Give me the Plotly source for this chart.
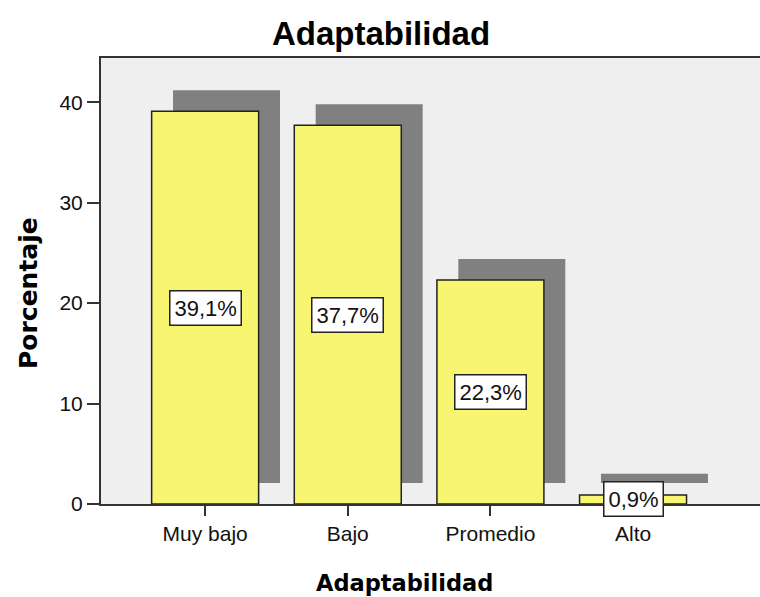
import plotly.graph_objects as go

categories = ["Muy bajo", "Bajo", "Promedio", "Alto"]
values = [39.1, 37.7, 22.3, 0.9]
labels = ["39,1%", "37,7%", "22,3%", "0,9%"]
y_ticks = [0, 10, 20, 30, 40]

xpos = list(range(len(categories)))
shadow_dx = 0.15
shadow_dy = 2.1

fig = go.Figure()
fig.add_trace(go.Bar(
    x=[p + shadow_dx for p in xpos], y=values, base=[shadow_dy] * len(values),
    width=0.75, marker=dict(color="#808080", line=dict(width=0)),
    hoverinfo="skip", showlegend=False))
fig.add_trace(go.Bar(
    x=xpos, y=values, width=0.75,
    marker=dict(color="#F8F570", line=dict(color="#222222", width=1.5)),
    showlegend=False))

for p, v, t in zip(xpos, values, labels):
    fig.add_annotation(x=p, y=v / 2, text=t, showarrow=False,
                       font=dict(family="Liberation Sans, Arial", size=22, color="#111"),
                       bgcolor="white", bordercolor="#222", borderwidth=1.5, borderpad=4)

# axis titles placed as annotations in pixel-based paper coordinates
W, H = 760, 597
L, R, T, B = 101, 0, 58, 93
pw, ph = W - L - R, H - T - B
fig.add_annotation(xref="paper", yref="paper", x=(404 - L) / pw, y=(H - B - 583) / ph,
                   text="<b>Adaptabilidad</b>", showarrow=False, xanchor="center", yanchor="middle",
                   font=dict(family="DejaVu Sans", size=22.5, color="#000"))
fig.add_annotation(xref="paper", yref="paper", x=(28 - L) / pw, y=(H - B - 293) / ph,
                   text="<b>Porcentaje</b>", showarrow=False, textangle=-90,
                   xanchor="center", yanchor="middle",
                   font=dict(family="DejaVu Sans", size=25, color="#000"))

fig.update_layout(
    barmode="overlay",
    width=W, height=H,
    paper_bgcolor="white", plot_bgcolor="#EFEFEF",
    margin=dict(l=L, r=R, t=T, b=B),
    title=dict(text="<b>Adaptabilidad</b>", x=(381 - L) / pw * pw / W + L / W, xanchor="center",
               y=1 - 33 / 597, yanchor="middle",
               font=dict(family="Liberation Sans, Arial", size=33, color="#000")),
    font=dict(family="Liberation Sans, Arial", color="#000"),
)
fig.update_xaxes(
    range=[-0.73, 3.89], tickvals=xpos, ticktext=categories,
    ticks="outside", ticklen=10, tickwidth=2, tickcolor="#333",
    tickfont=dict(size=21, color="#111"), showline=True, linecolor="#333", linewidth=2, mirror=True,
    showgrid=False, zeroline=False)
fig.update_yaxes(
    range=[0, 44.4], tickvals=y_ticks,
    ticks="outside", ticklen=12, tickwidth=2, tickcolor="#333",
    tickfont=dict(size=21, color="#111"), showline=True, linecolor="#333", linewidth=2,
    showgrid=False, zeroline=False)

fig.write_html("out.html", config={"displayModeBar": False, "responsive": False},
               post_script="document.body.style.margin='0';document.body.style.overflow='hidden';")
